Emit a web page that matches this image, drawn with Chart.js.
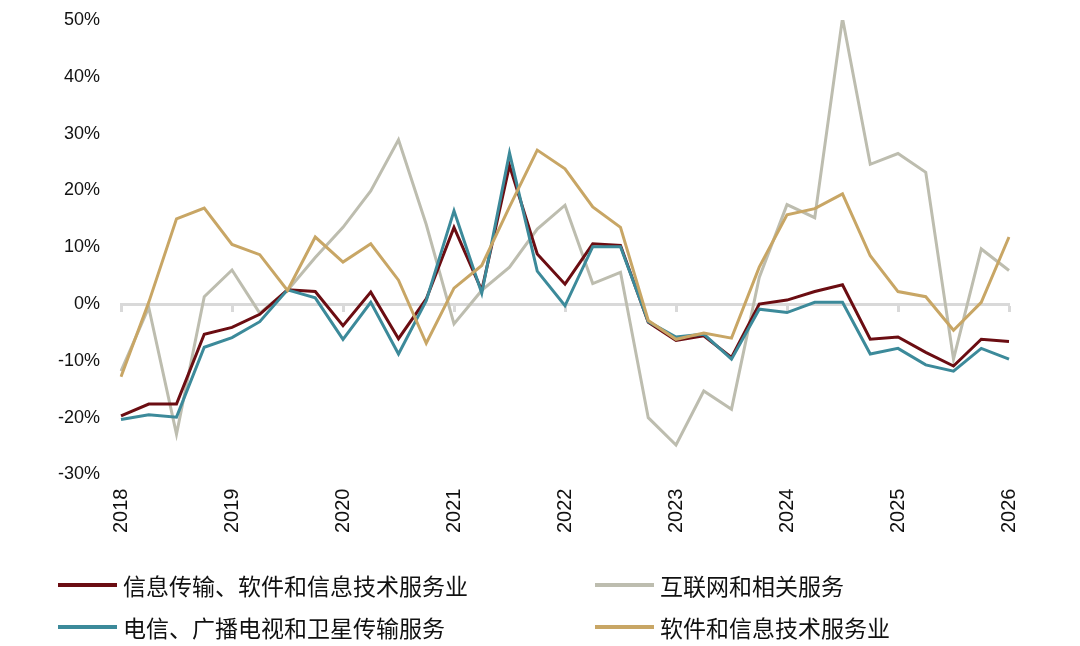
<!DOCTYPE html>
<html>
<head>
<meta charset="utf-8">
<script src="https://cdn.jsdelivr.net/npm/chart.js@4/dist/chart.umd.min.js"></script>
<style>
    body { margin:0; background:#fff; }
    #wrap { position:relative; width:1080px; height:646px; }
    #legend { position:absolute; left:0; top:0; width:1080px; height:646px; pointer-events:none; }
    .lg { position:absolute; display:flex; align-items:center; font-family:"Noto Sans CJK SC","Noto Sans",sans-serif; font-size:23px; color:#111; white-space:nowrap; }
    .lg i { display:inline-block; width:59px; height:4px; margin-right:6px; }
</style>
</head>
<body>
<div id="wrap">
    <canvas id="c" width="1080" height="646"></canvas>
    <div id="legend"></div>
</div>
<script>
// quarters 2018Q1 .. 2026Q1
const quarters = [];
for (let y = 2018; y <= 2026; y++) {
    for (let q = 1; q <= 4; q++) {
        if (y == 2026 && q > 1) break;
        quarters.push(y+'Q'+q);
    }
}

const yTicks = [50, 40, 30, 20, 10, 0, -10, -20, -30];

const names = ['信息传输、软件和信息技术服务业', '互联网和相关服务', '电信、广播电视和卫星传输服务', '软件和信息技术服务业'];

// 信息传输、软件和信息技术服务业
const infoTrans = [-19.7, -17.6, -17.6, -5.3, -4.1, -1.8, 2.5, 2.2, -3.8, 2.1, -6.1,
    0.9, 13.5, 2.4, 24.4, 8.8, 3.5, 10.6, 10.3, -3.2, -6.4, -5.6, -9.4,
    0.0, 0.7, 2.2, 3.4, -6.2, -5.8, -8.5, -10.9, -6.2, -6.6];
// 互联网和相关服务
const internet = [-11.8, -0.6, -22.9, 1.3, 6.0, -1.6, 2.4, 8.2, 13.5, 19.9, 28.9,
    14.0, -3.5, 2.4, 6.5, 13.2, 17.4, 3.6, 5.6, -20.0, -24.8, -15.3, -18.5,
    4.7, 17.5, 15.2, 50.3, 24.6, 26.5, 23.2, -9.7, 9.7, 5.9];
// 电信、广播电视和卫星传输服务
const telecom = [-20.3, -19.5, -19.9, -7.6, -5.9, -3.1, 2.5, 1.1, -6.2, 0.3, -8.8,
    0.6, 16.4, 1.9, 26.6, 5.8, -0.3, 10.1, 10.1, -3.1, -5.8, -5.3, -9.7,
    -0.9, -1.5, 0.3, 0.3, -8.8, -7.8, -10.7, -11.8, -7.8, -9.7];
// 软件和信息技术服务业
const software = [-12.8, 0.3, 15.0, 16.9, 10.5, 8.7, 2.4, 11.8, 7.4, 10.6, 4.2,
    -6.9, 2.8, 6.8, 17.1, 27.1, 23.8, 17.1, 13.5, -2.9, -6.2, -5.1, -6.0,
    6.5, 15.7, 16.8, 19.4, 8.5, 2.2, 1.3, -4.6, 0.3, 11.8];

const colors = ['#6B0D12', '#BDBDAF', '#3C8A9A', '#C8A665'];
const series = [infoTrans, internet, telecom, software];
const drawOrder = [2, 3, 1, 0];

const yFont = { family: '"Liberation Sans",Arial,sans-serif', size: 18 };
const xFont = { family: '"Liberation Sans",Arial,sans-serif', size: 20 };

let datasets = [];
for (let i = 0; i < series.length; i++) {
    datasets.push({
        label: names[i],
        data: series[i],
        borderColor: colors[i],
        backgroundColor: colors[i],
        borderWidth: 3,
        pointRadius: 0,
        tension: 0,
        order: drawOrder[i]
    });
}

const isYear = idx => idx % 4 === 0;

new Chart(document.getElementById('c'), {
    type: 'line',
    data: { labels: quarters, datasets: datasets },
    options: {
        responsive: false,
        animation: false,
        layout: { padding: { top: 20, right: 71, bottom: 99, left: 0 } },
        plugins: { legend: { display: false }, tooltip: { enabled: false } },
        scales: {
            x: {
                offset: false,
                grid: { display: false, drawTicks: false },
                border: { display: false },
                ticks: {
                    autoSkip: false,
                    minRotation: 90,
                    maxRotation: 90,
                    padding: 14,
                    color: '#111',
                    font: xFont,
                    callback: (v, idx) => isYear(idx) ? quarters[idx].slice(0, 4) : ''
                }
            },
            // zero line with year ticks
            x0: {
                position: { y: 0 },
                offset: false,
                grid: {
                    drawOnChartArea: false,
                    drawTicks: true,
                    tickLength: 6,
                    tickWidth: 3,
                    color: ctx => isYear(ctx.index) ? '#D9D9D9' : 'rgba(0,0,0,0)'
                },
                border: { display: true, color: '#D9D9D9', width: 3 },
                ticks: { autoSkip: false, display: false }
            },
            y: {
                min: -30,
                max: 50,
                afterFit: s => { s.width = 121; s.paddingTop = 0; s.paddingBottom = 0; },
                afterBuildTicks: s => { s.ticks = yTicks.map(v => ({ value: v })); },
                grid: { display: false, drawTicks: false },
                border: { display: false },
                ticks: {
                    padding: 21,
                    color: '#111',
                    font: yFont,
                    callback: v => v + '%'
                }
            }
        }
    }
});

// legend, two columns
let legend = document.getElementById('legend');
const legendPos = [[58, 585], [595, 585], [58, 627], [595, 627]];
for (let i = 0; i < names.length; i++) {
    let div = document.createElement('div');
    div.setAttribute('class', 'lg');
    div.style.left = legendPos[i][0]+'px';
    div.style.top = (legendPos[i][1]-17)+'px';
    let sw = document.createElement('i');
    sw.style.background = colors[i];
    div.appendChild(sw);
    let span = document.createElement('span');
    span.innerHTML = names[i];
    div.appendChild(span);
    legend.appendChild(div);
}
</script>
</body>
</html>
